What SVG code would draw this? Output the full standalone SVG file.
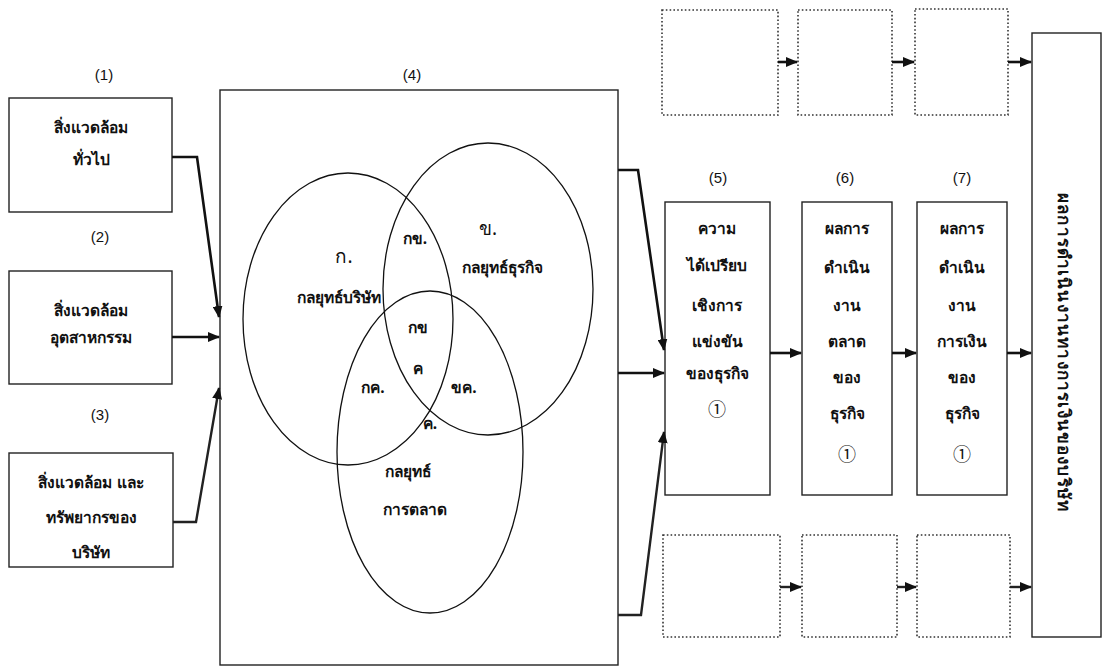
<svg xmlns="http://www.w3.org/2000/svg" width="1103" height="668" viewBox="0 0 1103 668">
<style>
.bx{fill:#fff;stroke:#222;stroke-width:1.4}
.dot{fill:none;stroke:#333;stroke-width:1.6;stroke-dasharray:1.6 2.2}
.el{fill:none;stroke:#111;stroke-width:1.3}
.t{font-family:"Noto Sans","DejaVu Sans","Noto Sans CJK SC",sans-serif;font-size:15.5px;font-weight:bold;fill:#111;text-anchor:middle;dominant-baseline:central}
.lb{font-family:"Liberation Sans",Arial,sans-serif;font-size:15px;fill:#111;text-anchor:middle;dominant-baseline:central}
.big{font-size:19px;font-weight:normal}
.one{font-family:"Noto Sans CJK JP","DejaVu Sans",sans-serif;font-weight:normal;font-size:18px}
.c{fill:none;stroke:#111;stroke-width:2.6}
.c2{fill:none;stroke:#222;stroke-width:2.4}
</style>
<defs>
<marker id="ah" viewBox="0 0 12 10" refX="11" refY="5" markerWidth="12" markerHeight="10" markerUnits="userSpaceOnUse" orient="auto">
<path d="M0,0 L12,5 L0,10 Z" fill="#111"/>
</marker>
</defs>
<rect width="1103" height="668" fill="#fff"/>

<g id="labels">
<text class="lb" x="104" y="74">(1)</text>
<text class="lb" x="412" y="74">(4)</text>
<text class="lb" x="100" y="236">(2)</text>
<text class="lb" x="100" y="414">(3)</text>
<text class="lb" x="718" y="177">(5)</text>
<text class="lb" x="845" y="177">(6)</text>
<text class="lb" x="962" y="177">(7)</text>
</g>

<g id="n1"><rect class="bx" x="9" y="98" width="163" height="114"/>
<text class="t" x="91" y="127">สิ่งแวดล้อม</text><text class="t" x="91" y="159">ทั่วไป</text></g>
<g id="n2"><rect class="bx" x="9" y="271" width="163" height="113"/>
<text class="t" x="91" y="310">สิ่งแวดล้อม</text><text class="t" x="91" y="337">อุตสาหกรรม</text></g>
<g id="n3"><rect class="bx" x="9" y="453" width="164" height="114"/>
<text class="t" x="91" y="482">สิ่งแวดล้อม และ</text><text class="t" x="91" y="517">ทรัพยากรของ</text><text class="t" x="91" y="552">บริษัท</text></g>

<g id="n4">
<rect class="bx" x="220" y="90" width="398" height="575"/>
<ellipse class="el" cx="348" cy="319" rx="105" ry="146"/>
<ellipse class="el" cx="488" cy="289" rx="105" ry="146"/>
<ellipse class="el" cx="430" cy="452" rx="93" ry="161"/>
<text class="t big" x="344" y="256">ก.</text>
<text class="t" x="339" y="297">กลยุทธ์บริษัท</text>
<text class="t" x="415" y="238">กข.</text>
<text class="t big" x="488" y="228">ข.</text>
<text class="t" x="502" y="267">กลยุทธ์ธุรกิจ</text>
<text class="t" x="418" y="327">กข</text>
<text class="t" x="418" y="368">ค</text>
<text class="t" x="373" y="387">กค.</text>
<text class="t" x="464" y="387">ขค.</text>
<text class="t" x="430" y="423">ค.</text>
<text class="t" x="408" y="471">กลยุทธ์</text>
<text class="t" x="415" y="509">การตลาด</text>
</g>

<g id="n5"><rect class="bx" x="665" y="202" width="105" height="293"/>
<text class="t" x="717" y="228">ความ</text><text class="t" x="717" y="265">ได้เปรียบ</text><text class="t" x="717" y="305">เชิงการ</text><text class="t" x="717" y="341">แข่งขัน</text><text class="t" x="717" y="373">ของธุรกิจ</text><text class="t one" x="717" y="408">①</text></g>
<g id="n6"><rect class="bx" x="802" y="202" width="90" height="293"/>
<text class="t" x="847" y="228">ผลการ</text><text class="t" x="847" y="267">ดำเนิน</text><text class="t" x="847" y="305">งาน</text><text class="t" x="847" y="341">ตลาด</text><text class="t" x="847" y="377">ของ</text><text class="t" x="847" y="413">ธุรกิจ</text><text class="t one" x="847" y="453">①</text></g>
<g id="n7"><rect class="bx" x="917" y="202" width="90" height="293"/>
<text class="t" x="962" y="228">ผลการ</text><text class="t" x="962" y="267">ดำเนิน</text><text class="t" x="962" y="305">งาน</text><text class="t" x="962" y="341">การเงิน</text><text class="t" x="962" y="377">ของ</text><text class="t" x="962" y="413">ธุรกิจ</text><text class="t one" x="962" y="453">①</text></g>

<g id="n8"><rect class="bx" x="1032" y="33" width="69" height="604"/>
<text class="t" x="1064" y="352" transform="rotate(90 1064 352)" style="font-size:17px" textLength="318" lengthAdjust="spacing">ผลการดำเนินงานทางการเงินของบริษัท</text></g>

<g id="dotted-top">
<rect class="dot" x="662" y="10" width="116" height="105"/>
<rect class="dot" x="798" y="10" width="94" height="105"/>
<rect class="dot" x="915" y="9" width="93" height="106"/>
</g>
<g id="dotted-bottom">
<rect class="dot" x="663" y="535" width="117" height="102"/>
<rect class="dot" x="802" y="535" width="95" height="102"/>
<rect class="dot" x="917" y="535" width="93" height="102"/>
</g>

<g id="connectors">
<path class="c" d="M172,157 H197 L219,317" marker-end="url(#ah)"/>
<path class="c" d="M172,337 H219" marker-end="url(#ah)"/>
<path class="c2" d="M173,522 H196 L219,388" marker-end="url(#ah)"/>
<path class="c" d="M618,170 H638 L664,350" marker-end="url(#ah)"/>
<path class="c" d="M618,373 H664" marker-end="url(#ah)"/>
<path class="c2" d="M618,615 H641 L664,432" marker-end="url(#ah)"/>
<path class="c" d="M770,353 H801" marker-end="url(#ah)"/>
<path class="c" d="M892,353 H916" marker-end="url(#ah)"/>
<path class="c" d="M1007,353 H1031" marker-end="url(#ah)"/>
<path class="c" d="M778,62 H797" marker-end="url(#ah)"/>
<path class="c" d="M892,62 H914" marker-end="url(#ah)"/>
<path class="c" d="M1008,62 H1031" marker-end="url(#ah)"/>
<path class="c2" d="M780,587 H801" marker-end="url(#ah)"/>
<path class="c2" d="M897,587 H916" marker-end="url(#ah)"/>
<path class="c2" d="M1010,587 H1031" marker-end="url(#ah)"/>
</g>
</svg>
